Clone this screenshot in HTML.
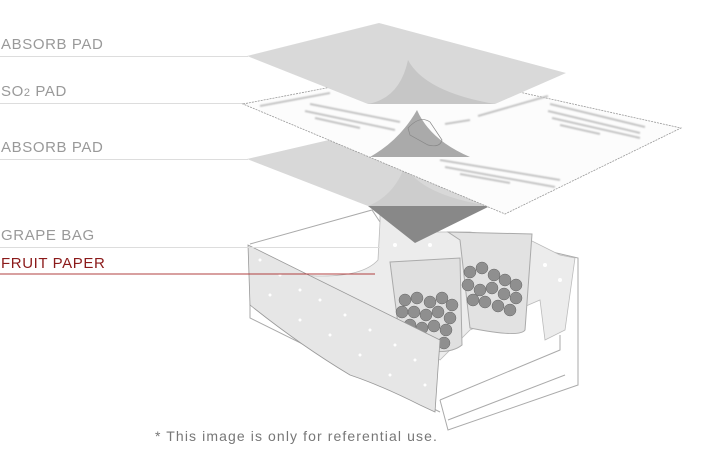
<!DOCTYPE html>
<html><head><meta charset="utf-8"><style>
body{margin:0;background:#fff;width:705px;height:447px;overflow:hidden;font-family:"Liberation Sans",sans-serif}
</style></head><body>
<svg width="705" height="447" viewBox="0 0 705 447" xmlns="http://www.w3.org/2000/svg">
<defs><filter id="b"><feGaussianBlur stdDeviation="0.8"/></filter></defs>
<!-- box back -->
<g fill="none" stroke="#aaa" stroke-width="1">
<polyline points="250,244 372,210 380,222"/>
<polyline points="535,248 578,258 578,385 448,430 440,400"/>
<polyline points="440,400 560,350 560,335"/>
<polyline points="448,420 565,375"/>
<polyline points="250,300 250,318 440,412"/>
</g>
<!-- inner bag back paper -->
<path d="M380,222 L380,208 Q395,225 430,232 L470,232 L530,240 L560,255 L575,258 L565,330 L545,340 L540,300 L470,330 L440,360 L300,275 Q360,280 378,260 Z" fill="#ececec" stroke="#bbb" stroke-width="0.8"/>
<g fill="#fff"><circle cx="395" cy="245" r="2"/><circle cx="405" cy="232" r="2"/><circle cx="430" cy="245" r="2"/><circle cx="560" cy="280" r="2"/><circle cx="545" cy="265" r="2"/></g>
<!-- bags -->
<path d="M448,232 L532,234 L525,330 Q520,338 470,328 L460,240 Z" fill="#e2e2e2" stroke="#aaa"/>
<path d="M390,262 L460,258 L462,345 Q450,355 420,350 L400,340 Z" fill="#e0e0e0" stroke="#aaa"/>
<g fill="#8f8f8f" stroke="#666" stroke-width="0.5">
<circle cx="470" cy="272" r="6"/><circle cx="482" cy="268" r="6"/><circle cx="494" cy="275" r="6"/><circle cx="505" cy="280" r="6"/><circle cx="516" cy="285" r="6"/>
<circle cx="468" cy="285" r="6"/><circle cx="480" cy="290" r="6"/><circle cx="492" cy="288" r="6"/><circle cx="504" cy="294" r="6"/><circle cx="516" cy="298" r="6"/>
<circle cx="485" cy="302" r="6"/><circle cx="498" cy="306" r="6"/><circle cx="510" cy="310" r="6"/><circle cx="473" cy="300" r="6"/>
<circle cx="405" cy="300" r="6"/><circle cx="417" cy="298" r="6"/><circle cx="430" cy="302" r="6"/><circle cx="442" cy="298" r="6"/><circle cx="452" cy="305" r="6"/>
<circle cx="402" cy="312" r="6"/><circle cx="414" cy="312" r="6"/><circle cx="426" cy="315" r="6"/><circle cx="438" cy="312" r="6"/><circle cx="450" cy="318" r="6"/>
<circle cx="410" cy="325" r="6"/><circle cx="422" cy="328" r="6"/><circle cx="434" cy="326" r="6"/><circle cx="446" cy="330" r="6"/><circle cx="444" cy="343" r="6"/>
</g>
<!-- front panel -->
<path d="M248,245 L440,340 L435,412 L420,405 Q380,385 350,375 Q300,345 250,305 Z" fill="#e6e6e6" stroke="#999" stroke-width="0.8"/>
<g fill="#fff">
<circle cx="260" cy="260" r="1.5"/><circle cx="280" cy="275" r="1.5"/><circle cx="300" cy="290" r="1.5"/><circle cx="320" cy="300" r="1.5"/><circle cx="345" cy="315" r="1.5"/><circle cx="370" cy="330" r="1.5"/><circle cx="395" cy="345" r="1.5"/><circle cx="415" cy="360" r="1.5"/><circle cx="270" cy="295" r="1.5"/><circle cx="300" cy="320" r="1.5"/><circle cx="330" cy="335" r="1.5"/><circle cx="360" cy="355" r="1.5"/><circle cx="390" cy="375" r="1.5"/><circle cx="425" cy="385" r="1.5"/>
</g>
<!-- labels -->
<g font-size="15" fill="#999" letter-spacing="0.6">
<text x="1" y="49">ABSORB PAD</text>
<text x="1" y="96">SO<tspan font-size="11">2</tspan> PAD</text>
<text x="1" y="152">ABSORB PAD</text>
<text x="1" y="240">GRAPE BAG</text>
</g>
<text x="1" y="268" font-size="15" fill="#8b1a1a" letter-spacing="0.6">FRUIT PAPER</text>
<g stroke="#ddd" stroke-width="1">
<line x1="0" y1="56.5" x2="248" y2="56.5"/>
<line x1="0" y1="103.5" x2="245" y2="103.5"/>
<line x1="0" y1="159.5" x2="248" y2="159.5"/>
<line x1="0" y1="247.5" x2="380" y2="247.5"/>
</g>
<line x1="0" y1="274" x2="375" y2="274" stroke="#b04040" stroke-width="1"/>
<!-- lower absorb pad -->
<polygon points="247,159 372,130 498,206 368,206" fill="#d8d8d8"/>
<path d="M368,206 Q395,195 405,165 Q420,195 490,206 Z" fill="#cdcdcd"/>
<polygon points="368,206 490,206 415,243" fill="#888"/>
<!-- SO2 pad -->
<polygon points="243,104 420,70 681,128 505,214" fill="#fcfcfc" stroke="#999" stroke-width="0.8" stroke-dasharray="2,1"/>
<g stroke="#c4c4c4" stroke-width="2" filter="url(#b)">
<line x1="260" y1="106" x2="330" y2="93"/><line x1="445" y1="124" x2="470" y2="120"/><line x1="478" y1="116" x2="548" y2="96"/>
<line x1="550" y1="104" x2="645" y2="127"/><line x1="548" y1="111" x2="640" y2="133"/><line x1="552" y1="118" x2="640" y2="138"/><line x1="560" y1="125" x2="600" y2="134"/>
<line x1="310" y1="104" x2="400" y2="122"/><line x1="305" y1="111" x2="395" y2="130"/><line x1="315" y1="118" x2="360" y2="128"/>
<line x1="440" y1="160" x2="560" y2="180"/><line x1="445" y1="167" x2="555" y2="187"/><line x1="460" y1="174" x2="510" y2="183"/>
</g>
<path d="M370,157 Q400,140 417,110 Q430,140 470,157 Z" fill="#aaa"/>
<path d="M408,128 Q420,115 430,122 L442,140 Q440,148 428,145 L410,135 Z" fill="none" stroke="#888" stroke-width="0.7"/>
<rect x="383" y="157" width="117" height="2" fill="#fcfcfc"/>
<!-- top absorb pad -->
<polygon points="247,56 379,23 566,73 495,104 368,104" fill="#d9d9d9"/>
<path d="M368,104 Q400,98 408,60 Q425,92 495,104 Z" fill="#c6c6c6"/>
<text x="155" y="441" font-size="14" fill="#777" letter-spacing="1.1">* This image is only for referential use.</text>
</svg>
</body></html>
